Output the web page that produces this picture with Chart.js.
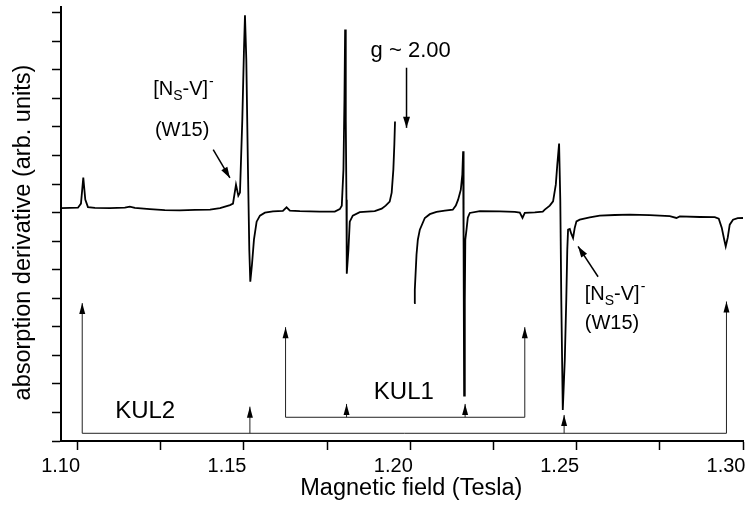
<!DOCTYPE html>
<html>
<head>
<meta charset="utf-8">
<script src="https://cdn.jsdelivr.net/npm/chart.js@4.4.1/dist/chart.umd.min.js"></script>
<style>
  html, body { margin: 0; padding: 0; background: #fff; }
  #chart { display: block; }
</style>
</head>
<body>
<canvas id="chart" width="749" height="508"></canvas>
<script>
// EPR trace, low-field part (up to the g ~ 2.00 cut)
const fieldLow = [1.0950, 1.0977, 1.1001, 1.1010, 1.1017, 1.1023, 1.1031, 1.1052, 1.1097, 1.1142,
  1.1157, 1.1172, 1.1217, 1.1262, 1.1307, 1.1353, 1.1398, 1.1428, 1.1458, 1.1467,
  1.1476, 1.1483, 1.1488, 1.1495, 1.1500, 1.1503, 1.1507, 1.1512, 1.1516, 1.1519,
  1.1524, 1.1530, 1.1538, 1.1548, 1.1563, 1.1587, 1.1617, 1.1628, 1.1638, 1.1668,
  1.1728, 1.1773, 1.1788, 1.1794, 1.1799, 1.1802, 1.1804, 1.1806, 1.1808, 1.1809,
  1.1814, 1.1818, 1.1827, 1.1848, 1.1893, 1.1914, 1.1926, 1.1938, 1.1944, 1.1949,
  1.1952, 1.1954];
const signalLow = [8.155, 8.162, 8.172, 8.313, 9.225, 8.453, 8.190, 8.162, 8.155, 8.172,
  8.208, 8.162, 8.120, 8.085, 8.078, 8.092, 8.102, 8.155, 8.260, 8.313,
  8.979, 8.593, 8.699, 11.259, 13.714, 14.907, 13.364, 9.505, 6.699, 5.577,
  6.173, 7.050, 7.681, 7.892, 7.997, 8.043, 8.057, 8.183, 8.067, 8.050,
  8.032, 8.032, 8.120, 8.243, 9.505, 11.961, 14.416, 11.259, 8.453, 5.858,
  6.699, 7.681, 7.892, 8.015, 8.050, 8.137, 8.243, 8.383, 8.699, 9.505,
  10.382, 11.189];

// EPR trace, high-field part
const fieldHigh = [1.20114, 1.20135, 1.20186, 1.20226, 1.20286, 1.20436, 1.20586, 1.20787, 1.21037, 1.21277,
  1.21368, 1.21437, 1.21518, 1.21563, 1.21587, 1.21602, 1.21617, 1.21638, 1.21653, 1.21689,
  1.21728, 1.21788, 1.22089, 1.22690, 1.23141, 1.23291, 1.23372, 1.23441, 1.23742, 1.23982,
  1.24042, 1.24192, 1.24291, 1.24373, 1.24418, 1.24472, 1.24508, 1.24538, 1.24583, 1.24643,
  1.24688, 1.24718, 1.24742, 1.24793, 1.24838, 1.24892, 1.24943, 1.24994, 1.25093, 1.25394,
  1.25694, 1.26145, 1.26596, 1.27197, 1.27798, 1.27999, 1.28099, 1.28700, 1.29151, 1.29271,
  1.29361, 1.29436, 1.29481, 1.29541, 1.29601, 1.29700, 1.29841, 1.30000];
const signalHigh = [4.830, 5.296, 6.524, 7.050, 7.401, 7.811, 7.944, 8.022, 8.067, 8.102,
  8.243, 8.453, 8.804, 9.330, 10.147, 6.699, 1.589, 4.946, 7.050, 7.401,
  7.822, 7.987, 8.050, 8.043, 8.022, 7.997, 7.811, 7.987, 8.008, 8.032,
  8.102, 8.243, 8.393, 8.979, 9.681, 10.417, 8.453, 4.946, 1.087, 2.841,
  4.946, 6.699, 7.401, 7.425, 7.261, 7.110, 7.471, 7.692, 7.752, 7.832,
  7.892, 7.916, 7.927, 7.909, 7.874, 7.811, 7.864, 7.846, 7.839, 7.787,
  7.471, 7.050, 6.815, 7.120, 7.576, 7.752, 7.804, 7.811];

// stick diagrams (resonance positions and relative heights)
const kul2Fields = [1.10138, 1.15178, 1.24623, 1.29503];
const kul2Tips = [4.830, 1.203, 0.912, 4.886];
const kul2Base = 0.27;
const kul1Fields = [1.16250, 1.18083, 1.21647, 1.23441];
const kul1Tips = [3.988, 1.298, 1.298, 3.988];
const kul1Base = 0.831;

// axes
const xTickValues = [1.10, 1.125, 1.15, 1.175, 1.20, 1.225, 1.25, 1.275, 1.30];
const xTickLabels = ['1.10', '', '1.15', '', '1.20', '', '1.25', '', '1.30'];
const yTickValues = [0, 1, 2, 3, 4, 5, 6, 7, 8, 9, 10, 11, 12, 13, 14, 15];
const xTitle = 'Magnetic field (Tesla)';
const yTitle = 'absorption derivative (arb. units)';

// annotation texts, anchored in data coordinates
const textLabels = [
  { text: 'KUL2', x: 1.12031, y: 0.817, size: 24, align: 'center' },
  { text: 'KUL1', x: 1.19805, y: 1.463, size: 24, align: 'center' },
  { text: 'g ~ 2.00', x: 1.20010, y: 13.458, size: 22, align: 'center' },
  { text: '(W15)', x: 1.12323, y: 10.698, size: 20, align: 'left' },
  { text: '(W15)', x: 1.25244, y: 3.928, size: 20, align: 'left' }
];
const defectLabels = [
  { x: 1.12272, y: 12.101 },
  { x: 1.25244, y: 4.946 }
];
const pointers = [
  { from: [1.14075, 10.207], to: [1.14577, 9.214] },
  { from: [1.25644, 5.752], to: [1.25043, 6.815] },
  { from: [1.19886, 13.073], to: [1.19886, 10.968] }
];

const FONT = '"Liberation Sans", Arial, Helvetica, sans-serif';

function toPoints(xs, ys) {
  return xs.map((v, i) => ({ x: v, y: ys[i] }));
}

function stickPoints(fields, tips, base) {
  const pts = [];
  fields.forEach((f, i) => {
    pts.push({ x: f, y: base }, { x: f, y: tips[i] }, { x: f, y: null });
  });
  pts.push({ x: fields[0], y: base }, { x: fields[fields.length - 1], y: base });
  return pts;
}

function arrowHead(ctx, fx, fy, tx, ty, len, half) {
  const d = Math.hypot(tx - fx, ty - fy) || 1;
  const ux = (tx - fx) / d, uy = (ty - fy) / d;
  const bx = tx - ux * len, by = ty - uy * len;
  ctx.beginPath();
  ctx.moveTo(tx, ty);
  ctx.lineTo(bx - uy * half, by + ux * half);
  ctx.lineTo(bx + uy * half, by - ux * half);
  ctx.closePath();
  ctx.fill();
}

function drawDefect(ctx, px, py) {
  // [N_S-V]^-
  let cx = px;
  ctx.textAlign = 'left';
  ctx.font = '20px ' + FONT;
  ctx.fillText('[N', cx, py);
  cx += ctx.measureText('[N').width;
  ctx.font = '14px ' + FONT;
  ctx.fillText('S', cx, py + 5);
  cx += ctx.measureText('S').width;
  ctx.font = '20px ' + FONT;
  ctx.fillText('-V]', cx, py);
  cx += ctx.measureText('-V]').width;
  ctx.font = '14px ' + FONT;
  ctx.fillText('-', cx + 1, py - 9);
}

const annotationPlugin = {
  id: 'spectrumAnnotations',
  afterDatasetsDraw(chart) {
    const { ctx, scales: { x, y } } = chart;
    ctx.save();
    ctx.fillStyle = '#000';
    ctx.strokeStyle = '#000';

    [[kul2Fields, kul2Tips], [kul1Fields, kul1Tips]].forEach(([fields, tips]) => {
      fields.forEach((f, i) => {
        const px = x.getPixelForValue(f), py = y.getPixelForValue(tips[i]);
        arrowHead(ctx, px, py + 20, px, py, 11, 3);
      });
    });

    ctx.lineWidth = 1.5;
    pointers.forEach(p => {
      const fx = x.getPixelForValue(p.from[0]), fy = y.getPixelForValue(p.from[1]);
      const tx = x.getPixelForValue(p.to[0]), ty = y.getPixelForValue(p.to[1]);
      ctx.beginPath();
      ctx.moveTo(fx, fy);
      ctx.lineTo(tx, ty);
      ctx.stroke();
      arrowHead(ctx, fx, fy, tx, ty, 11, 3.5);
    });

    ctx.textBaseline = 'alphabetic';
    textLabels.forEach(t => {
      ctx.font = t.size + 'px ' + FONT;
      ctx.textAlign = t.align;
      ctx.fillText(t.text, x.getPixelForValue(t.x), y.getPixelForValue(t.y));
    });
    defectLabels.forEach(d => drawDefect(ctx, x.getPixelForValue(d.x), y.getPixelForValue(d.y)));

    // axis titles, centred the way the original figure has them
    ctx.font = '23.5px ' + FONT;
    ctx.textAlign = 'center';
    ctx.textBaseline = 'middle';
    ctx.fillText(xTitle, x.getPixelForValue(1.2003), x.bottom - 19);
    ctx.translate(y.left + 23.5, y.getPixelForValue(7.3));
    ctx.rotate(-Math.PI / 2);
    ctx.fillText(yTitle, 0, 0);
    ctx.restore();
  }
};

const stickStyle = { borderColor: '#222', borderWidth: 1, pointRadius: 0, spanGaps: false };

new Chart(document.getElementById('chart'), {
  type: 'line',
  data: {
    datasets: [
      Object.assign({ data: stickPoints(kul2Fields, kul2Tips, kul2Base) }, stickStyle),
      Object.assign({ data: stickPoints(kul1Fields, kul1Tips, kul1Base) }, stickStyle),
      { data: toPoints(fieldLow, signalLow), borderColor: '#000', borderWidth: 1.8, pointRadius: 0 },
      { data: toPoints(fieldHigh, signalHigh), borderColor: '#000', borderWidth: 1.8, pointRadius: 0 }
    ]
  },
  options: {
    responsive: false,
    animation: false,
    layout: { padding: { top: 7, right: 6, left: 0, bottom: 0 } },
    plugins: { legend: { display: false }, tooltip: { enabled: false } },
    elements: { line: { tension: 0 } },
    scales: {
      x: {
        type: 'linear',
        min: 1.095,
        max: 1.30,
        border: { color: '#000', width: 2 },
        grid: { drawOnChartArea: false, drawTicks: true, tickLength: 9, tickWidth: 1.5, tickColor: '#000' },
        ticks: {
          color: '#000',
          font: { family: FONT, size: 20 },
          padding: 4,
          labelOffset: -17,
          maxRotation: 0,
          autoSkip: false,
          callback: (value, index) => xTickLabels[index]
        },
        afterBuildTicks: s => { s.ticks = xTickValues.map(v => ({ value: v })); },
        afterFit: s => { s.height = 67; s.paddingLeft = 0; s.paddingRight = 0; },
        title: { display: false }
      },
      y: {
        min: 0,
        max: 15.2,
        border: { color: '#000', width: 2 },
        grid: { drawOnChartArea: false, drawTicks: true, tickLength: 9, tickWidth: 1.5, tickColor: '#000' },
        ticks: { display: false },
        afterBuildTicks: s => { s.ticks = yTickValues.map(v => ({ value: v })); },
        afterFit: s => { s.width = 61; },
        title: { display: false }
      }
    }
  },
  plugins: [annotationPlugin]
});
</script>
</body>
</html>
